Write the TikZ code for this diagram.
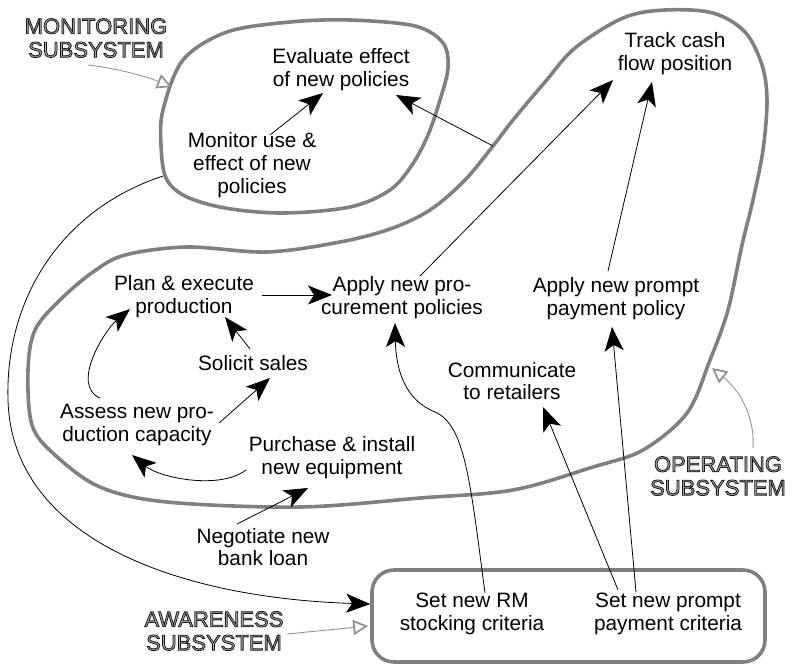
\documentclass[tikz,border=0pt]{standalone}
\usepackage{fontspec}
\setmainfont{Liberation Sans}
\usetikzlibrary{arrows.meta}

% outlined lettering for the subsystem captions (stroke + fill render mode)
\newcommand\hollowtext[1]{\special{pdf:literal direct 2 Tr 0.8 w 0.1 G}#1\special{pdf:literal direct 0 Tr}}

\tikzset{
  lbl/.style={font=\fontsize{20.8}{22.8}\selectfont, align=center, inner sep=0pt},
  sub/.style={font=\fontsize{22}{23.5}\selectfont, align=center, inner sep=0pt, text=black!35},
  zone/.style={draw=gray, line width=3.6pt},
  link/.style={line width=0.8pt, -{Stealth[length=24pt,width=19pt,inset=6pt]}},
  pointer/.style={draw=gray!85, line width=0.9pt, -{Triangle[open,length=15pt,width=15pt,line width=1.8pt]}},
}

\begin{document}
\begin{tikzpicture}[x=1pt,y=-1pt]
\useasboundingbox (0,0) rectangle (792,665);

% ---- subsystem boundaries ----
\draw[zone] plot[smooth cycle, tension=0.55] coordinates {
  (163,110) (183,60) (227,32) (290,22) (350,20) (415,26) (443,43) (448,68)
  (440,100) (428,135) (412,165) (390,190) (350,207) (283,213) (225,208)
  (185,196) (166,178) (161,145)};
\draw[zone] plot[smooth cycle, tension=0.55] coordinates {
  (28,370) (35,330) (60,300) (93,272) (125,255) (187,247) (267,252) (340,242)
  (390,229) (430,210) (465,180) (493,146) (513,120) (545,82) (575,48) (623,18)
  (665,10) (713,13) (745,32) (762,65) (767,100) (763,150) (753,200) (742,245)
  (728,310) (710,360) (687,413) (643,450) (593,467) (513,490) (420,498)
  (300,507) (167,502) (100,487) (55,455) (32,425)};
\node[zone, rounded corners=22pt, minimum width=393pt, minimum height=92pt, inner sep=0pt] (aw) at (568.5,616) {};

% points on the boundaries
\coordinate (monB) at (163,176);
\coordinate (monIn) at (172,87);
\coordinate (opB) at (493,146);
\coordinate (opIn) at (712,368);
\coordinate (awIn) at ([shift={(0,-12)}]aw.west);
\coordinate (awTag) at ([shift={(-2,10)}]aw.west);

% ---- activities ----
\node[lbl] (eval)    at (341,70)  {Evaluate effect\\of new policies};
\node[lbl] (mon)     at (252,165) {Monitor use \&\\effect of new\\policies};
\node[lbl] (track)   at (675,54)  {Track cash\\flow position};
\node[lbl] (plan)    at (184,297) {Plan \& execute\\production};
\node[lbl] (proc)    at (402,298) {Apply new pro-\\curement policies};
\node[lbl] (prompt)  at (616,299) {Apply new prompt\\payment policy};
\node[lbl] (solicit) at (253,363) {Solicit sales};
\node[lbl] (comm)    at (512,381) {Communicate\\to retailers};
\node[lbl] (assess)  at (137,425) {Assess new pro-\\duction capacity};
\node[lbl] (purch)   at (332,458) {Purchase \& install\\new equipment};
\node[lbl] (nego)    at (263,547) {Negotiate new\\bank loan};
\node[lbl] (rm)      at (472,614) {Set new RM\\stocking criteria};
\node[lbl] (pp)      at (668,614) {Set new prompt\\payment criteria};

% ---- subsystem captions ----
\node[sub] (monL) at (96,38)  {\hollowtext{MONITORING\\SUBSYSTEM}};
\node[sub] (opL)  at (718,476) {\hollowtext{OPERATING\\SUBSYSTEM}};
\node[sub] (awL)  at (214,631) {\hollowtext{AWARENESS\\SUBSYSTEM}};

% ---- influences ----
\draw[link] ([shift={(18,-30)}]mon.center) -- ([shift={(-18,23)}]eval.center);
\draw[link] (opB) -- ([shift={(55,25)}]eval.center);
\draw[link] ([shift={(18,-22)}]proc.center) -- ([shift={(-62,26)}]track.center);
\draw[link] ([shift={(-8,-28)}]prompt.center) -- ([shift={(-23,28)}]track.center);
\draw[link] ([shift={(78,-2)}]plan.center) -- ([shift={(-70,-3)}]proc.center);
\draw[link] ([shift={(-3,-14)}]solicit.center) -- ([shift={(41,20)}]plan.center);
\draw[link] ([shift={(-37,-27)}]assess.center) .. controls (70,385) and (105,330) .. ([shift={(-54,12)}]plan.center);
\draw[link] ([shift={(82,-2)}]assess.center) -- ([shift={(17,15)}]solicit.center);
\draw[link] ([shift={(-86,12)}]purch.center) .. controls (220,490) and (160,478) .. ([shift={(-5,30)}]assess.center);
\draw[link] ([shift={(-26,-23)}]nego.center) -- ([shift={(-24,30)}]purch.center);
\draw[link] ([shift={(13,-21)}]rm.center) .. controls (470,480) and (465,425) .. (435,412)
  .. controls (405,400) and (396,370) .. ([shift={(-7,25)}]proc.center);
\draw[link] ([shift={(-50,-24)}]pp.center) -- ([shift={(31,26)}]comm.center);
\draw[link] ([shift={(-32,-22)}]pp.center) -- ([shift={(-4,28)}]prompt.center);
\draw[link] (monB) .. controls (60,210) and (5,300) .. (8,400)
  .. controls (12,540) and (180,598) .. (awIn);

% ---- caption pointers ----
\draw[pointer] ([shift={(-8,27)}]monL.center) .. controls (115,68) and (145,76) .. (monIn);
\draw[pointer] ([shift={(35,-28)}]opL.center) .. controls (755,420) and (742,392) .. (opIn);
\draw[pointer] ([shift={(73,3)}]awL.center) -- (awTag);
\end{tikzpicture}
\end{document}
